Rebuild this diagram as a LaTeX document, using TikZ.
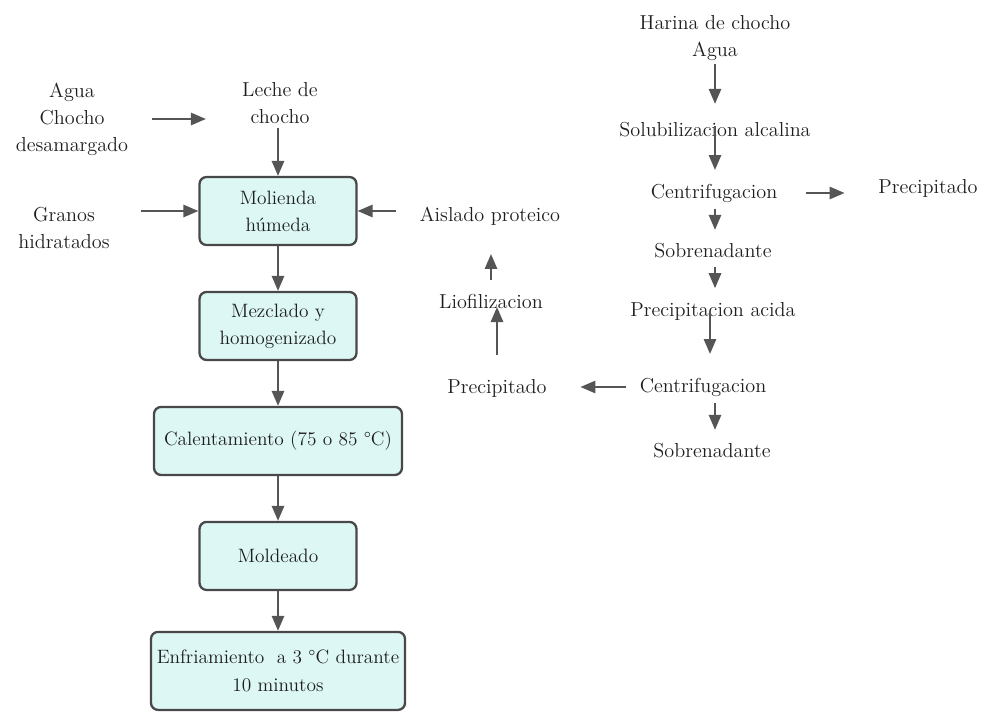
\documentclass[tikz,border=0pt]{standalone}
\usepackage{tikz}
\usepackage{xcolor}
\usetikzlibrary{positioning}
\usetikzlibrary{arrows.meta}
\definecolor{boxfill}{RGB}{221,247,244}
\definecolor{boxline}{RGB}{72,72,72}
\definecolor{arrowgray}{RGB}{85,85,85}
\definecolor{textgray}{RGB}{30,30,30}
\tikzstyle{process} = [rectangle, rounded corners=4pt, minimum width=3.14cm, minimum height=1.36cm, text centered, draw=boxline, line width=1.3pt, fill=boxfill, text=textgray, align=center, font=\fontsize{11}{15.4}\selectfont]
\tikzstyle{plain} = [inner sep=2pt, text=textgray, align=center]
\tikzstyle{arrow} = [line width=1.1pt, draw=arrowgray, -{Triangle[length=8.5pt,width=7pt]}]

\begin{document}
\begin{tikzpicture}[x=0.02cm, y=-0.02cm, node distance=2.3cm, font=\fontsize{11.5}{15.4}\selectfont]
        \useasboundingbox (0,0) rectangle (983,713);

        \node (molienda) [process] at (278,211) {Molienda\\ húmeda};
        \node (mezclado) [process, below of=molienda] {Mezclado y\\ homogenizado};
        \node (calentamiento) [process, below of=mezclado, minimum width=4.96cm] {Calentamiento (75 o 85 °C)};
        \node (moldeado) [process, below of=calentamiento] {Moldeado};
        \node (enfriamiento) [process, below of=moldeado, minimum width=5.06cm, minimum height=1.56cm] {Enfriamiento~ a 3 °C durante\\ 10 minutos};

        \draw [arrow] (molienda) -- (mezclado);
        \draw [arrow] (mezclado) -- (calentamiento);
        \draw [arrow] (calentamiento) -- (moldeado);
        \draw [arrow] (moldeado) -- (enfriamiento);

        \node (agua) [plain] at (72,119) {Agua\\ Chocho\\ desamargado};
        \node (leche) [plain] at (280,103) {Leche de\\ chocho};
        \node (granos) [plain] at (64,228) {Granos\\ hidratados};

        \draw [arrow, shorten <=0.4cm, shorten >=0.65cm] (agua.east) -- (agua.east -| leche.west);
        \draw [arrow] (molienda.north |- leche.south) -- (molienda.north);
        \draw [arrow, shorten <=0.55cm] (granos.east |- molienda.west) -- (molienda.west);

        \node (aislado) [plain] at (490,216) {Aislado proteico};
        \node (liofilizacion) [plain] at (491,301) {Liofilizacion};
        \node (precizq) [plain] at (497,388) {Precipitado};

        \draw [arrow, shorten <=0.4cm] (aislado.west |- molienda.east) -- (molienda.east);
        \draw [arrow, shorten <=0.2cm, shorten >=0.5cm] (liofilizacion.north) -- (liofilizacion.north |- aislado.south);
        \draw [arrow, shorten <=0.4cm, shorten >=-0.1cm] (precizq.north) -- (precizq.north |- liofilizacion.south);

        \node (harina) [plain] at (715,38) {Harina de chocho\\ Agua};
        \node (solubilizacion) [plain] at (715,130) {Solubilizacion alcalina};
        \node (centrif1) [plain] at (714,193) {Centrifugacion};
        \node (precder) [plain] at (928,188) {Precipitado};
        \node (sobren1) [plain] at (713,251) {Sobrenadante};
        \node (precacida) [plain] at (713,311) {Precipitacion acida};
        \node (centrif2) [plain] at (703,387) {Centrifugacion};
        \node (sobren2) [plain] at (712,451) {Sobrenadante};

        \draw [arrow, shorten >=0.3cm] (harina) -- (harina |- solubilizacion.north);
        \draw [arrow, shorten <=-0.3cm, shorten >=0.2cm] (solubilizacion.south -| harina) -- (harina |- centrif1.north);
        \draw [arrow, shorten <=0.5cm, shorten >=0.6cm] (centrif1.east) -- (centrif1.east -| precder.west);
        \draw [arrow, shorten <=0.05cm, shorten >=0.2cm] (centrif1.south -| harina) -- (harina |- sobren1.north);
        \draw [arrow, shorten <=0.1cm, shorten >=0.2cm] (sobren1.south -| harina) -- (harina |- precacida.north);
        \draw [arrow, shorten <=-0.25cm, shorten >=0.4cm] ([xshift=-0.1cm]precacida.south -| harina) -- ([xshift=-0.1cm]harina |- centrif2.north);
        \draw [arrow, shorten <=0.2cm, shorten >=0.6cm] (centrif2.west) -- (centrif2.west -| precizq.east);
        \draw [arrow, shorten <=0.05cm, shorten >=0.2cm] (centrif2.south -| harina) -- (harina |- sobren2.north);
    \end{tikzpicture}
\end{document}
